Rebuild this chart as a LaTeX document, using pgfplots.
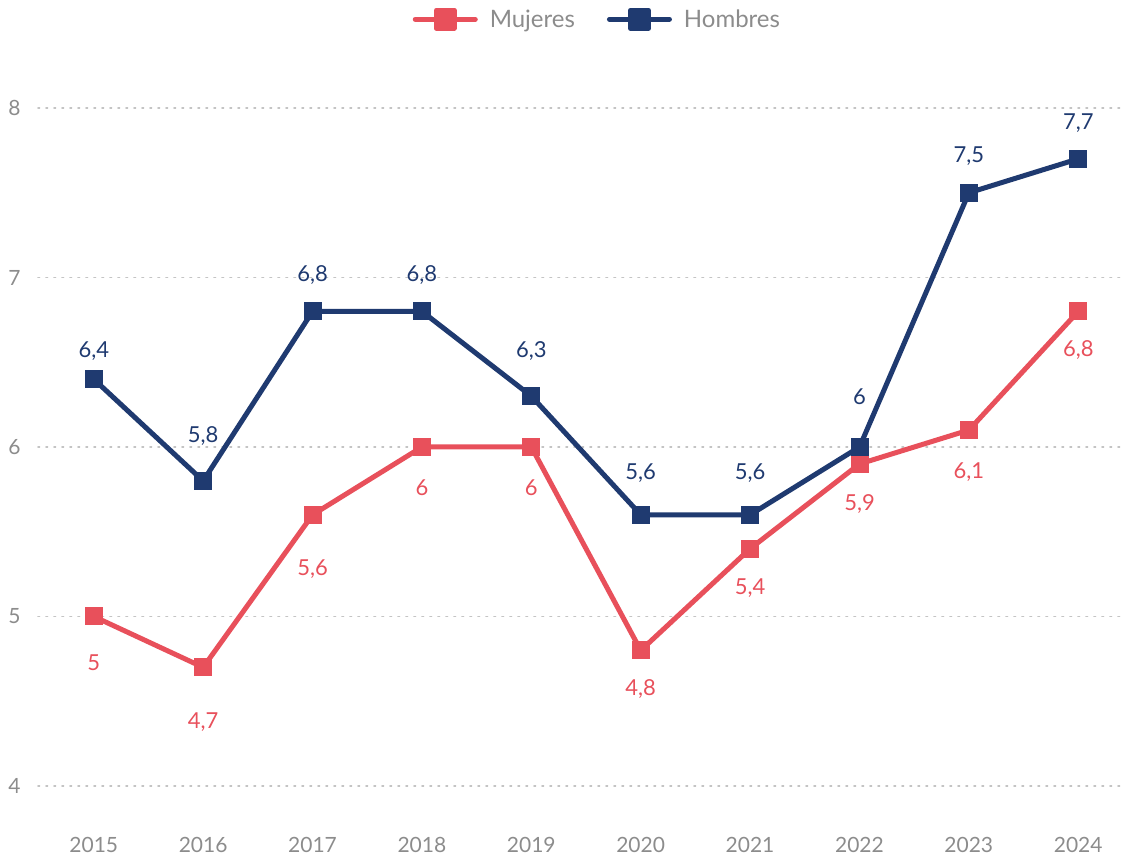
\documentclass[border=0pt]{standalone}
\usepackage{fontspec}
\setmainfont{Lato}
\usepackage{pgfplots}
\pgfplotsset{compat=1.18}
\definecolor{muj}{HTML}{E8505B}
\definecolor{hom}{HTML}{1F3A70}
\definecolor{tickgray}{HTML}{8C8C8C}
\definecolor{gridgray}{HTML}{C4C4C4}
\begin{document}
\begin{tikzpicture}[x=1pt,y=1pt]
\path[use as bounding box] (0,0) rectangle (1125,859);
\begin{axis}[
  at={(38pt,73pt)}, anchor=south west,
  scale only axis,
  width=1084pt, height=678pt,
  xmin=2014.49, xmax=2024.4,
  ymin=4, ymax=8,
  axis line style={draw=none},
  xtick={2015,...,2024},
  ytick={4,5,6,7,8},
  xticklabel style={/pgf/number format/1000 sep={}},
  x tick label style={yshift=-48pt},
  y tick label style={xshift=-14pt},
  tick style={draw=none},
  ticklabel style={font=\fontsize{21}{24}\selectfont, text=tickgray},
  /pgf/number format/assume math mode=true,
  ymajorgrids,
  grid style={gridgray, line width=1.6pt, dash pattern=on 1.6pt off 6.4pt, line cap=round},
  clip=false,
  legend style={at={(axis description cs:0.516,1.131)}, anchor=center, draw=none, fill=none,
    legend columns=2, font=\fontsize{24}{28}\selectfont, text=tickgray,
    /tikz/every even column/.append style={column sep=30pt}},
  legend image code/.code={
    \draw[#1, line width=5pt, line cap=round] (0pt,0pt) -- (60pt,0pt);
    \fill[#1] (21pt,-9pt) rectangle (39pt,9pt);
    \path (70pt,0pt);
  },
  nodes near coords,
  visualization depends on={\thisrow{off} \as \off},
  every node near coord/.append style={font=\fontsize{22}{26}\selectfont, anchor=center, yshift=\off pt,
    /pgf/number format/use comma, /pgf/number format/assume math mode=true},
]
\addplot[muj, line width=5pt, mark=square*, mark size=8.5pt, line join=round,
  mark options={line width=0pt, draw=none},
  every node near coord/.append style={text=muj}]
  table {
x y off
2015 5 -46
2016 4.7 -55
2017 5.6 -54
2018 6 -41
2019 6 -41
2020 4.8 -39
2021 5.4 -39
2022 5.9 -40
2023 6.1 -42
2024 6.8 -39
};
\addlegendentry{Mujeres}
\addplot[hom, line width=5pt, mark=square*, mark size=8.5pt, line join=round,
  mark options={line width=0pt, draw=none},
  every node near coord/.append style={text=hom}]
  table {
x y off
2015 6.4 28
2016 5.8 45
2017 6.8 36
2018 6.8 36
2019 6.3 45
2020 5.6 42
2021 5.6 42
2022 6 50
2023 7.5 37
2024 7.7 36
};
\addlegendentry{Hombres}
\end{axis}
\end{tikzpicture}
\end{document}
